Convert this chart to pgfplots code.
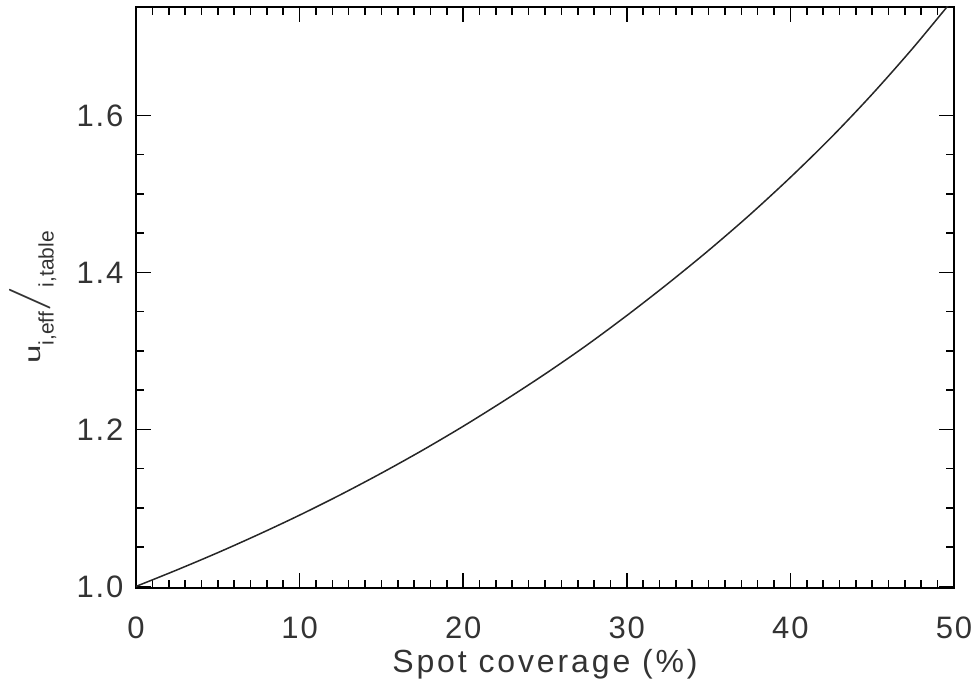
\documentclass[border=0pt]{standalone}
\usepackage{fontspec}
\setmainfont{Liberation Sans}
\usepackage{graphicx}
\usepackage{pgfplots}
\pgfplotsset{compat=1.18}
\begin{document}
\begin{tikzpicture}
\begin{axis}[
  scale only axis,
  width=818pt, height=581pt,
  xmin=0, xmax=50, ymin=0.998, ymax=1.738,
  xtick={0,10,20,30,40,50},
  ytick={1.0,1.2,1.4,1.6},
  minor x tick num=9,
  minor y tick num=3,
  tick align=inside,
  major tick length=15pt,
  minor tick length=8pt,
  every tick/.style={black, line width=1.6pt},
  axis line style={line width=1.8pt},
  tick label style={font=\fontsize{31}{36}\selectfont\addfontfeature{LetterSpace=6}, text=black!80},
  /pgf/number format/assume math mode=true,
  yticklabel style={/pgf/number format/fixed, /pgf/number format/fixed zerofill, /pgf/number format/precision=1, xshift=-9pt},
  xticklabel style={yshift=-25pt},
  xlabel={Spot coverage (\%)},
  xlabel style={font=\fontsize{32}{36}\selectfont\addfontfeature{LetterSpace=9}, text=black!80, at={(axis description cs:0.5,-0.146)}, anchor=base},
  ylabel={\fontsize{22}{26}\selectfont\scalebox{1.5}[1]{u}\raisebox{-13pt}{\fontsize{21}{24}\selectfont i,eff}\scalebox{2.6}[2.0]{$\Big/$}\raisebox{-13pt}{\fontsize{21}{24}\selectfont i,table}},
  ylabel style={text=black!80, at={(axis description cs:-0.126,0.5)}, anchor=center},
]
\addplot[black!85, line width=1.5pt, smooth] coordinates {
(0,1.000) (2.5,1.021) (5,1.043) (7.5,1.0663) (10,1.0908) (12.5,1.1168)
(15,1.1443) (17.5,1.1733) (20,1.2040) (22.5,1.2365) (25,1.2705) (27.5,1.3065)
(30,1.3450) (32.5,1.3855) (35,1.4280) (37.5,1.4730) (40,1.5210) (42.5,1.5720)
(45,1.6270) (47.5,1.6860) (50,1.7490)
};
\end{axis}
\pgfresetboundingbox
\path[use as bounding box] ([xshift=-136pt,yshift=-102pt]current axis.south west) rectangle ([xshift=25pt,yshift=7pt]current axis.north east);
\end{tikzpicture}
\end{document}
